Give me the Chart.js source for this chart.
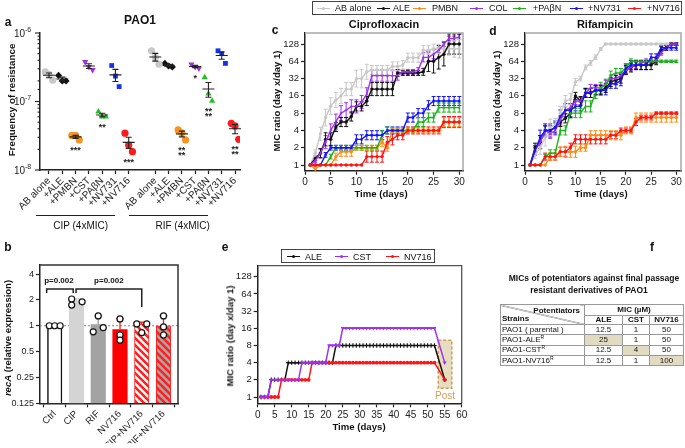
<!DOCTYPE html>
<html><head><meta charset="utf-8">
<script src="https://cdn.jsdelivr.net/npm/chart.js@4.4.1/dist/chart.umd.min.js"></script>
<style>
html,body{margin:0;padding:0;background:#fff;}
#wrap{position:relative;width:685px;height:448px;overflow:hidden;font-family:"Liberation Sans",Arial,sans-serif;color:#111;}
canvas{position:absolute;left:0;top:0;}
.t{position:absolute;white-space:nowrap;line-height:1;z-index:5;}
.b{font-weight:bold;}
.ctr{transform:translate(-50%,-50%);}
.rot{transform:translate(-50%,-50%) rotate(-90deg);}
.ln{position:absolute;border-top:1px solid #222;height:0;z-index:5;}
.lg{position:absolute;border:1px solid #444;box-sizing:border-box;z-index:5;background:#fff;}
.mk{position:absolute;height:0;border-top:1.4px solid;z-index:6;}
.dot{position:absolute;width:3px;height:3px;border-radius:50%;z-index:6;}
#tf{position:absolute;left:500px;top:304px;border-collapse:collapse;table-layout:fixed;font-size:8px;z-index:5;border:1.5px solid #888;}
#tf td{border:1px solid #999;padding:0 1px;line-height:8px;text-align:center;white-space:nowrap;}
#tf td.s{text-align:left;}
#tf td.h{background:#e2dbc3;}
#tf sup{font-size:5px;vertical-align:3px;line-height:0;}
</style></head><body><div id="wrap">
<canvas id="ca" width="685" height="448"></canvas>
<canvas id="cb" width="685" height="448"></canvas>
<canvas id="cc" width="685" height="448"></canvas>
<canvas id="cd" width="685" height="448"></canvas>
<canvas id="ce" width="685" height="448"></canvas>
</div>
<script>
// ---------------- DATA ----------------
// Panel a : frequency of resistance (3 replicates per condition)
const aCats = ['AB alone','+ALE','+PMBN','+CST','+PA\u03b2N','+NV731','+NV716'];
const aGroups = ['CIP (4xMIC)','RIF (4xMIC)'];
const aCIP = [
  [2.7e-7, 2.5e-7, 2.05e-7],
  [2.4e-7, 2.0e-7, 2.0e-7],
  [3.2e-8, 3.2e-8, 2.75e-8],
  [3.8e-7, 3.2e-7, 2.9e-7],
  [7.1e-8, 6.0e-8, 6.0e-8],
  [3.35e-7, 2.35e-7, 1.65e-7],
  [3.45e-8, 2.3e-8, 1.85e-8]
];
const aRIF = [
  [5.5e-7, 4.4e-7, 3.5e-7],
  [3.6e-7, 3.3e-7, 3.2e-7],
  [3.85e-8, 3.5e-8, 2.75e-8],
  [3.5e-7, 3.2e-7, 3.05e-7],
  [2.25e-7, 1.3e-7, 1.02e-7],
  [5.5e-7, 5.0e-7, 3.6e-7],
  [4.8e-8, 4.4e-8, 2.8e-8]
];
const aStarsCIP = ['', '', '***', '', '**', '', '***'];
const aStarsRIF = ['', '', '**\n**', '*', '**\n**', '', '**\n**'];
const aTicksY = [1e-8, 1e-7, 1e-6];
const aTickLabels = [['10','-8'],['10','-7'],['10','-6']];

// Panel b : recA relative expression
const bCats = ['Ctrl','CIP','RIF','NV716','CIP+NV716','RIF+NV716'];
const bMeans = [1, 1.95, 1.03, 0.9, 1.05, 1.0];
const bErrTop = [1, 2.05, 1.3, 1.2, 1.1, 1.3];
const bPts = [[1,1,1],[2.05,1.74,1.9],[1.3,0.85,0.95],[1.2,0.78,0.68],[1.05,0.83,1.05],[1.3,0.97,0.78]];
const bTicksY = [0.125, 0.25, 0.5, 1, 2, 4];
const bPvals = ['p=0.002', 'p=0.002'];

// Panels c, d : MIC ratio over time
const days = [1,2,3,4,5,6,7,8,9,10,11,12,13,14,15,16,17,18,19,20,21,22,23,24,25,26,27,28,29,30];
const seriesNames = ['AB alone','ALE','PMBN','COL','+PA\u03b2N','+NV731','+NV716'];
const cAB   = [1,1.6,3.5,6.7,10.6,13.5,16,21,21,32,32,42,45,45,45,45,52,52,55,74,74,74,100,100,106,106,106,106,106,106];
const cALE  = [1,1.3,1.6,2.8,2.8,4.6,5.6,5.6,7,10.5,10.5,13,21,21,21,21,21,40,40,40,40,40,42,64,64,75,85,128,128,128];
const cPMBN = [1,0.85,1,1,1,1.4,1.7,1.7,1.7,2,2,2,2,2,2.5,2,4,4,4,4,4,4,4,4,4,4,5.6,5.6,5.6,5.6];
const cCOL  = [1,1.2,1.6,2.5,4,5.7,8,9,10.5,10.5,12.5,17,36,36,36,36,36,36,42,42,42,45,75,75,85,100,128,160,160,170];
const cPAbN = [1,1,1,1,1.4,2,2,2,2,2,2,2,2,2,3.3,4,4,4,4,4,4,5.6,5.6,6.7,6.7,10,10,10,10,10];
const cNV731= [1,1,1,1.5,2,2,2,2,2,2.8,2.8,3.3,3.3,3.3,3.3,4,4,4,4,6.7,6.7,8,8,11,13,13,13,13,13,13];
const cNV716= [1,1,1,1,1,1,1,1,1,1,1,1.4,1.4,1.4,1.4,2.5,2.8,3.3,3.3,4,4,4,4,4,4,4,5.6,5.6,5.6,5.6];
// error factors (bar from value/f to value*f)
const cABe   = [1,1.15,1.3,1.4,1.4,1.35,1.35,1.3,1.3,1.4,1.45,1.35,1.2,1.2,1.2,1.2,1.2,1.2,1.2,1.2,1.2,1.2,1.2,1.2,1.2,1.2,1.25,1.3,1.4,1.45];
const cALEe  = [1,1.1,1.2,1.3,1.3,1.2,1.2,1.2,1.2,1.2,1.2,1.2,1.3,1.3,1.3,1.3,1.3,1.15,1.1,1.1,1.1,1.1,1.15,1.5,1.6,1.6,1.6,1.5,1.5,1.5];
const cPMBNe = [1,1.1,1,1,1,1.15,1.2,1.2,1.2,1.1,1.1,1.1,1.1,1.1,1.2,1.15,1.1,1.1,1.1,1.1,1.1,1.1,1.1,1.1,1.1,1.1,1.2,1.2,1.2,1.2];
const cCOLe  = [1,1.1,1.2,1.3,1.3,1.35,1.35,1.35,1.3,1.3,1.3,1.3,1.25,1.25,1.25,1.25,1.25,1.2,1.1,1.1,1.1,1.1,1.2,1.2,1.2,1.1,1.1,1.1,1.1,1.1];
const cPAbNe = [1,1,1,1,1.1,1.1,1.1,1.1,1.1,1.1,1.1,1.1,1.1,1.1,1.2,1.15,1.1,1.1,1.1,1.1,1.1,1.2,1.2,1.2,1.2,1.2,1.2,1.2,1.2,1.2];
const cNV731e= [1,1,1,1.1,1.1,1.1,1.1,1.1,1.1,1.2,1.2,1.2,1.2,1.2,1.2,1.15,1.15,1.15,1.15,1.2,1.2,1.2,1.2,1.2,1.2,1.2,1.2,1.2,1.2,1.2];
const cNV716e= [1,1,1,1,1,1,1,1,1,1,1,1.25,1.25,1.25,1.25,1.25,1.25,1.2,1.2,1.15,1.15,1.15,1.15,1.15,1.15,1.15,1.25,1.25,1.25,1.25];

const dAB   = [1,1.5,2,3,4.5,5,8,13,14,28,32,50,60,75,105,128,128,128,128,128,128,128,128,128,128,128,128,128,128,128];
const dALE  = [1,2,2.5,4,4,4.5,5.6,6.5,8,16,13,18,18,20,20,22,28,30,32,45,50,55,55,55,55,64,100,110,128,128];
const dPMBN = [1,1,1,1,1.4,1.4,1.7,1.7,1.7,1.7,2,2,3.3,3.3,3.3,3.3,3.3,3.3,3.3,4,4,6.7,6.7,6.7,6.7,6.7,6.7,6.7,6.7,6.7];
const dCOL  = [1,1.8,2.5,4,3.5,4,6,9,10,13,13,18,22,22,22,26,32,32,36,45,50,55,60,64,64,64,90,110,128,128];
const dPAbN = [1,1,1,1.4,1.6,1.6,4,4,8,8,8,10.5,10.5,18,22,25,36,40,40,50,64,64,64,64,64,64,64,64,64,64];
const dNV731= [1,1.8,3,4,4,4.5,7,9,9,10.5,10.5,18,18,20,20,20,26,26,30,48,55,55,55,55,75,75,110,110,110,110];
const dNV716= [1,1,1,1.4,1.4,1.4,1.7,1.7,2,2.8,2.8,2.8,2.8,2.8,2.8,2.8,3.3,3.3,4,4,4,5.6,6.7,6.7,6.7,8,8,8,8,8];
const dABe   = [1,1.15,1.3,1.4,1.4,1.3,1.3,1.25,1.25,1.15,1.1,1.1,1.1,1.1,1.05,1.03,1.03,1.03,1.03,1.03,1.03,1.03,1.03,1.03,1.03,1.03,1.03,1.03,1.03,1.03];
const dALEe  = [1,1.2,1.3,1.2,1.2,1.2,1.2,1.2,1.2,1.15,1.2,1.2,1.2,1.2,1.2,1.2,1.2,1.2,1.2,1.2,1.2,1.2,1.2,1.2,1.2,1.15,1.15,1.1,1.05,1.05];
const dPMBNe = [1,1,1,1,1.15,1.15,1.2,1.25,1.25,1.25,1.15,1.15,1.2,1.2,1.2,1.2,1.2,1.2,1.2,1.15,1.15,1.2,1.2,1.2,1.2,1.2,1.2,1.2,1.2,1.2];
const dCOLe  = [1,1.2,1.3,1.2,1.2,1.2,1.2,1.15,1.15,1.15,1.15,1.15,1.15,1.15,1.15,1.15,1.15,1.15,1.15,1.15,1.15,1.15,1.1,1.1,1.1,1.1,1.1,1.1,1.05,1.05];
const dPAbNe = [1,1,1,1.1,1.15,1.15,1.2,1.2,1.2,1.2,1.2,1.25,1.25,1.25,1.25,1.25,1.2,1.2,1.2,1.15,1.1,1.05,1.05,1.05,1.05,1.05,1.05,1.05,1.05,1.05];
const dNV731e= [1,1.2,1.35,1.3,1.3,1.3,1.3,1.3,1.3,1.2,1.2,1.2,1.2,1.2,1.2,1.2,1.2,1.2,1.25,1.2,1.2,1.2,1.2,1.2,1.15,1.15,1.1,1.1,1.1,1.1];
const dNV716e= [1,1,1,1.15,1.15,1.15,1.2,1.2,1.2,1.2,1.2,1.2,1.2,1.2,1.2,1.2,1.15,1.15,1.1,1.1,1.1,1.15,1.1,1.1,1.1,1.05,1.05,1.05,1.05,1.05];
const cdTicksX = [0,5,10,15,20,25,30];
const cdTicksY = [1,2,4,8,16,32,64,128];

// Panel e : serial passage with potentiators
const eNames = ['ALE','CST','NV716'];
const eDays = [1,2,3,4,5,6,7,8,9,10,11,12,13,14,15,16,17,18,19,20,21,22,23,24,25,26,27,28,29,30,31,32,33,34,35,36,37,38,39,40,41,42,43,44,45,46,47,48,49,50,51,52,55];
const eALE  = [1,1,1,2,2,2,2,2,4,4,4,4,4,4,4,4,4,4,4,4,4,4,8,8,8,8,8,8,8,8,8,8,8,8,8,8,8,8,8,8,8,8,8,8,8,8,8,8,8,8,8,8,2];
const eCST  = [1,1,1,2,2,2,2,2,2,2,2,2,4,4,4,4,4,4,4,4,8,8,8,8,16,16,16,16,16,16,16,16,16,16,16,16,16,16,16,16,16,16,16,16,16,16,16,16,16,16,16,16,4];
const eNV716= [1,1,1,1,1,1,2,2,2,2,2,2,2,2,2,4,4,4,4,4,4,4,4,4,4,4,4,4,4,4,4,4,4,4,4,4,4,4,4,4,4,4,4,4,4,4,4,4,4,4,4,4,2];
const eTicksX = [0,5,10,15,20,25,30,35,40,45,50,55,60];
const ePost = {x0:53.1, x1:57.1, y0:1.42, y1:9.9, label:'Post'};

// Panel f : table
const fTitle = ['MICs of potentiators against final passage','resistant derivatives of PAO1'];
const fCols = ['ALE','CST','NV716'];
const fStrains = ['PAO1 ( parental )','PAO1-ALE<sup>R</sup>','PAO1-CST<sup>R</sup>','PAO1-NV716<sup>R</sup>'];
const fVals = [['12.5','1','50'],['25','1','50'],['12.5','4','50'],['12.5','1','100']];
const fHi = [[0,0,0],[1,0,0],[0,1,0],[0,0,1]];

// ---------------- STYLE ----------------
const FONT = '"Liberation Sans", Arial, sans-serif';
Chart.defaults.font.family = FONT;
Chart.defaults.color = '#222';
Chart.defaults.animation = false;
Chart.defaults.responsive = false;
Chart.defaults.devicePixelRatio = 1;
Chart.defaults.events = [];
Chart.defaults.plugins.legend.display = false;
Chart.defaults.plugins.tooltip.enabled = false;

const W = 685, H = 448;
function area(L,T,R,B,yW,xH){ return {padding:{left:L-yW, top:T, right:W-R, bottom:H-B-xH}}; }
function zeroPad(s){ s.paddingLeft=0; s.paddingRight=0; s.paddingTop=0; s.paddingBottom=0; }
function fitW(w){ return s => { s.width = w; zeroPad(s); }; }
function fitH(h){ return s => { s.height = h; zeroPad(s); }; }
const AX = '#222';
const border = {display:true, color:AX, width:1.5};
const tickGrid = {display:true, drawOnChartArea:false, tickLength:4, color:AX, tickColor:AX, tickWidth:1.2};

const colA = ['#c8c8c8','#111111','#f7931e','#a02ee0','#20c020','#1232f0','#ff1a1a'];
const colL = ['#c8c8c8','#111111','#ff8c1a','#a030f0','#18b418','#1414ff','#ff1414'];

const framePlugin = {id:'frame', afterDraw(chart, args, o){
  const a = chart.chartArea, ctx = chart.ctx;
  ctx.save(); ctx.strokeStyle = o.color; ctx.lineWidth = o.width;
  ctx.beginPath(); ctx.moveTo(a.left, a.top); ctx.lineTo(a.right, a.top); ctx.lineTo(a.right, a.bottom);
  ctx.stroke(); ctx.restore();
}};

// ---------------- PANEL A ----------------
const aJit = [-0.28, 0, 0.28];
const aShapes = [{s:'circle'},{s:'rectRot'},{s:'circle'},{s:'triangle',r:180},{s:'triangle'},{s:'rect'},{s:'circle'}];
const aDatasets = aCats.map((c,i)=>({
  data: [...aCIP[i].map((v,j)=>({x:1+i+aJit[j], y:v})), ...aRIF[i].map((v,j)=>({x:9+i+aJit[j], y:v}))],
  pointStyle: aShapes[i].s, rotation: aShapes[i].r||0,
  pointRadius: aShapes[i].s==='rect'?3.4:3.6, backgroundColor: colA[i], borderColor: colA[i], borderWidth: 0
}));
const aTicks = aGroups.flatMap((g,gi)=>aCats.map((c,i)=>({value: gi*8+i+1, label:c})));
const meanPlugin = {id:'meanA',
  afterDraw(chart){
    // log axis ticks: long majors with 10^n labels, short minors
    const {ctx, chartArea:a, scales:{y}} = chart;
    ctx.save(); ctx.strokeStyle = AX; ctx.lineWidth = 1.1; ctx.fillStyle = '#222';
    y.ticks.forEach(t=>{
      const py = y.getPixelForValue(t.value);
      const l = Math.log10(t.value), major = Math.abs(l-Math.round(l)) < 1e-6;
      ctx.beginPath(); ctx.moveTo(a.left, py); ctx.lineTo(a.left-(major?5:2.5), py); ctx.stroke();
    });
    aTicksY.forEach((v,i)=>{
      const py = y.getPixelForValue(v);
      ctx.font = '10px '+FONT; ctx.textBaseline='middle'; ctx.textAlign='right';
      const supW = 8;
      ctx.fillText(aTickLabels[i][0], a.left-7-supW, py+1);
      ctx.font = '7px '+FONT; ctx.textAlign='left';
      ctx.fillText(aTickLabels[i][1], a.left-7-supW, py-3);
    });
    ctx.restore();
  },
  afterDatasetsDraw(chart){
  const {ctx, scales:{x,y}} = chart;
  ctx.save(); ctx.strokeStyle='#222'; ctx.lineWidth=1.1;
  [aCIP, aRIF].forEach((grp, gi)=>grp.forEach((vals,i)=>{
    const n = vals.length, m = vals.reduce((a,b)=>a+b,0)/n;
    const se = Math.sqrt(vals.reduce((a,b)=>a+(b-m)*(b-m),0)/(n-1))/Math.sqrt(n);
    const px = x.getPixelForValue(gi*8+i+1);
    const pm = y.getPixelForValue(m), p1 = y.getPixelForValue(m+se), p0 = y.getPixelForValue(m-se);
    ctx.beginPath(); ctx.moveTo(px-6,pm); ctx.lineTo(px+6,pm);
    ctx.moveTo(px,p0); ctx.lineTo(px,p1);
    ctx.moveTo(px-3,p0); ctx.lineTo(px+3,p0); ctx.moveTo(px-3,p1); ctx.lineTo(px+3,p1); ctx.stroke();
    const st = [aStarsCIP, aStarsRIF][gi][i];
    if (st){
      const low = y.getPixelForValue(Math.min(...vals));
      ctx.fillStyle='#222'; ctx.font='bold 9px '+FONT; ctx.textAlign='center'; ctx.textBaseline='top';
      st.split('\n').forEach((s,k)=>ctx.fillText(s, px, low+6+k*5));
    }
  }));
  ctx.restore();
}};
new Chart(document.getElementById('ca'), {
  type:'scatter', data:{datasets:aDatasets},
  options:{ layout: area(40,33,240,170,40,40),
    scales:{
      x:{type:'linear', min:0.323, max:15.376, border, grid:tickGrid,
        afterBuildTicks: s=>{ s.ticks = aTicks.map(t=>({value:t.value})); }, afterFit: fitH(40),
        ticks:{autoSkip:false, minRotation:45, maxRotation:45, padding:1, font:{size:10}, color:'#222', callback:(v,i)=>aTicks[i].label}},
      y:{type:'logarithmic', min:1e-8, max:1e-6, border, grid:{display:false}, afterFit: fitW(40),
        ticks:{autoSkip:false, display:false}}
    }},
  plugins:[meanPlugin]
});

// ---------------- PANEL B ----------------
function stripes(c1, c2){
  const p = document.createElement('canvas'); p.width = p.height = 7;
  const g = p.getContext('2d'); g.fillStyle = c2; g.fillRect(0,0,7,7);
  g.strokeStyle = c1; g.lineWidth = 2.6; g.beginPath();
  g.moveTo(-2,-2); g.lineTo(9,9); g.moveTo(-2,5); g.lineTo(2,9); g.moveTo(5,-2); g.lineTo(9,2); g.stroke();
  return g.createPattern(p,'repeat');
}
const bFill = ['#ffffff','#d4d4d4','#a3a3a3','#ff0000', stripes('#ff2020','#ffffff'), stripes('#ff2020','#a8a8a8')];
const bBorder = ['#111111','#d4d4d4','#a3a3a3','#ff0000','#ff2020','#ff2020'];
const bBW = [1.5,0,0,0,1,1];
const bErrCol = ['#111','#cfcfcf','#9a9a9a','#ff1a1a','#ff1a1a','#ff1a1a'];
const bJit = [[-0.25,0,0.25],[-0.22,-0.22,0.26],[0,-0.23,0.23],[0,0,0],[-0.23,0,0.23],[0,0,0]];
const bBrackets = [{x0:-0.37, x1:0.85, top:2.68, l0:2.41, l1:2.41},{x0:0.98, x1:4.0, top:2.68, l0:2.41, l1:1.65}];
const bPlugin = {id:'bextra',
  beforeDatasetsDraw(chart){
    const {ctx, chartArea:a, scales:{y}} = chart;
    const py = y.getPixelForValue(1);
    ctx.save(); ctx.strokeStyle='#888'; ctx.lineWidth=1; ctx.setLineDash([2,2]);
    ctx.beginPath(); ctx.moveTo(a.left,py); ctx.lineTo(a.right,py); ctx.stroke(); ctx.restore();
  },
  afterDatasetDraw(chart, args){
    if (args.index !== 1) return;
    const {ctx, scales:{x,y}} = chart;
    ctx.save(); ctx.lineWidth=1.3;
    bMeans.forEach((m,i)=>{
      if (bErrTop[i] <= m) return;
      const px = x.getPixelForValue(i), p0 = y.getPixelForValue(m), p1 = y.getPixelForValue(bErrTop[i]);
      ctx.strokeStyle = bErrCol[i]; ctx.beginPath(); ctx.moveTo(px,p0); ctx.lineTo(px,p1);
      ctx.moveTo(px-4,p1); ctx.lineTo(px+4,p1); ctx.stroke();
    });
    ctx.restore();
  },
  afterDraw(chart){
    const {ctx, scales:{x,y}} = chart;
    ctx.save(); ctx.strokeStyle='#222'; ctx.lineWidth=1.5; ctx.fillStyle='#111';
    ctx.font='bold 8px '+FONT; ctx.textAlign='center'; ctx.textBaseline='middle';
    bBrackets.forEach((b,k)=>{
      const X0 = x.getPixelForValue(b.x0), X1 = x.getPixelForValue(b.x1), T = y.getPixelForValue(b.top);
      ctx.beginPath(); ctx.moveTo(X0, y.getPixelForValue(b.l0)); ctx.lineTo(X0,T); ctx.lineTo(X1,T); ctx.lineTo(X1, y.getPixelForValue(b.l1)); ctx.stroke();
      ctx.fillText(bPvals[k], (X0+X1)/2 + (k===0?-1:0), T-8);
    });
    ctx.restore();
  }
};
new Chart(document.getElementById('cb'), {
  type:'bar',
  data:{datasets:[
    {type:'scatter', order:0, data: bPts.flatMap((arr,i)=>arr.map((v,j)=>({x:i+bJit[i][j], y:v}))),
     pointRadius:3, pointBackgroundColor:'#fff', pointBorderColor:'#111', pointBorderWidth:1.2},
    {type:'bar', order:1, data: bMeans.map((v,i)=>({x:i, y:v})), backgroundColor:bFill, borderColor:bBorder,
     borderWidth:bBW, barThickness:14.5, borderSkipped:'bottom'}
  ]},
  options:{ layout: area(40,265,178,403.3,40,40),
    scales:{
      x:{type:'linear', min:-0.676, max:5.666, border, grid:tickGrid, offset:false,
        afterBuildTicks: s=>{ s.ticks = bCats.map((c,i)=>({value:i})); }, afterFit: fitH(40),
        ticks:{autoSkip:false, minRotation:45, maxRotation:45, padding:1, font:{size:9.5}, color:'#222', callback:(v,i)=>bCats[i]}},
      y:{type:'logarithmic', min:0.125, max:5.1, border, grid:tickGrid, afterFit: fitW(40),
        afterBuildTicks: s=>{ s.ticks = bTicksY.map(v=>({value:v})); },
        ticks:{autoSkip:false, padding:2, font:{size:9}, color:'#222', callback:(v)=>String(v)}}
    },
    plugins:{frame:{color:'#333', width:1.5}}
  },
  plugins:[bPlugin, framePlugin]
});

// ---------------- PANELS C, D ----------------
const errPlugin = {id:'err', beforeDatasetsDraw(chart){
  const {ctx, chartArea:a, scales:{x,y}} = chart;
  ctx.save(); ctx.beginPath(); ctx.rect(a.left-3, a.top-6, a.width+6, a.height+6); ctx.clip();
  ctx.lineWidth = 1;
  chart.data.datasets.forEach(ds=>{
    if (!ds.errF) return;
    ctx.strokeStyle = ds.borderColor;
    ds.data.forEach((p,i)=>{
      const f = ds.errF[i]; if (f <= 1) return;
      const px = x.getPixelForValue(p.x), y0 = y.getPixelForValue(p.y/f), y1 = y.getPixelForValue(p.y*f);
      ctx.beginPath(); ctx.moveTo(px,y0); ctx.lineTo(px,y1);
      ctx.moveTo(px-2,y0); ctx.lineTo(px+2,y0); ctx.moveTo(px-2,y1); ctx.lineTo(px+2,y1); ctx.stroke();
    });
  });
  ctx.restore();
}};
function mkLineSets(vals, errs){
  const shapes = ['circle','circle','circle','triangle','triangle','rect','circle'];
  const sets = vals.map((v,i)=>({
    data: days.map((d,k)=>({x:d, y:v[k]})), errF: errs[i],
    borderColor: colL[i], backgroundColor: colL[i], borderWidth: 1.4,
    pointRadius: 1.7, pointStyle: shapes[i], pointBorderWidth: 0, tension: 0
  }));
  // draw order: grey at the bottom, red on top
  return [sets[6], sets[5], sets[4], sets[3], sets[2], sets[1], sets[0]];
}
function mkCD(id, L, R, xmax, vals, errs){
  new Chart(document.getElementById(id), {
    type:'line', data:{datasets: mkLineSets(vals, errs)},
    options:{ layout: area(L,33,R,170.7,30,20),
      scales:{
        x:{type:'linear', min:0, max:xmax, border, grid:tickGrid, afterFit: fitH(20),
          afterBuildTicks: s=>{ s.ticks = cdTicksX.map(v=>({value:v})); },
          ticks:{autoSkip:false, maxRotation:0, padding:2, font:{size:10}, color:'#222'}},
        y:{type:'logarithmic', min:0.796, max:199, border, grid:tickGrid, afterFit: fitW(30),
          afterBuildTicks: s=>{ s.ticks = cdTicksY.map(v=>({value:v})); },
          ticks:{autoSkip:false, padding:2, font:{size:9.5}, color:'#222', callback:(v)=>String(v)}}
      },
      plugins:{frame:{color:'#a8a8a8', width:1.5}}
    },
    plugins:[errPlugin, framePlugin]
  });
}
mkCD('cc', 305, 463, 30.72, [cAB,cALE,cPMBN,cCOL,cPAbN,cNV731,cNV716], [cABe,cALEe,cPMBNe,cCOLe,cPAbNe,cNV731e,cNV716e]);
mkCD('cd', 525, 683, 30.92, [dAB,dALE,dPMBN,dCOL,dPAbN,dNV731,dNV716], [dABe,dALEe,dPMBNe,dCOLe,dPAbNe,dNV731e,dNV716e]);

// ---------------- PANEL E ----------------
const eCol = ['#111111','#a030f0','#ff1414'];
const eShape = [{s:'cross',r:2.2},{s:'triangle',r:2.3,rot:180},{s:'circle',r:1.9}];
const postPlugin = {id:'post', beforeDatasetsDraw(chart){
  const {ctx, scales:{x,y}} = chart;
  const X0 = x.getPixelForValue(ePost.x0), X1 = x.getPixelForValue(ePost.x1);
  const Y0 = y.getPixelForValue(ePost.y0), Y1 = y.getPixelForValue(ePost.y1);
  ctx.save(); ctx.fillStyle='rgba(222,210,172,0.75)'; ctx.fillRect(X0,Y1,X1-X0,Y0-Y1);
  ctx.strokeStyle='#d39c52'; ctx.lineWidth=1.5; ctx.setLineDash([3,2]); ctx.strokeRect(X0,Y1,X1-X0,Y0-Y1);
  ctx.setLineDash([]); ctx.fillStyle='#d39c52'; ctx.font='10px '+FONT; ctx.textAlign='center'; ctx.textBaseline='middle';
  ctx.fillText(ePost.label, (X0+X1)/2, Y0+7.5);
  ctx.restore();
}};
const eVals = [eALE, eCST, eNV716];
const eSets = eVals.map((v,i)=>({
  data: eDays.map((d,k)=>({x:d, y:v[k]})), borderColor:eCol[i], backgroundColor:eCol[i],
  pointBorderColor:eCol[i], borderWidth:1.5, pointRadius:eShape[i].r, pointStyle:eShape[i].s,
  rotation: eShape[i].rot||0, pointBorderWidth: eShape[i].s==='cross'?1.1:0, tension:0
}));
new Chart(document.getElementById('ce'), {
  type:'line', data:{datasets:[eSets[1], eSets[2], eSets[0]]},
  options:{ layout: area(257.7,265.7,461.7,403.3,30,20),
    scales:{
      x:{type:'linear', min:0, max:60, border, grid:tickGrid, afterFit: fitH(20),
        afterBuildTicks: s=>{ s.ticks = eTicksX.map(v=>({value:v})); },
        ticks:{autoSkip:false, maxRotation:0, padding:2, font:{size:10}, color:'#222'}},
      y:{type:'logarithmic', min:0.776, max:199.4, border, grid:tickGrid, afterFit: fitW(30),
        afterBuildTicks: s=>{ s.ticks = cdTicksY.map(v=>({value:v})); },
        ticks:{autoSkip:false, padding:2, font:{size:9.5}, color:'#222', callback:(v)=>String(v)}}
    },
    plugins:{frame:{color:'#555', width:1.3}}
  },
  plugins:[postPlugin, framePlugin]
});

// ---------------- HTML TEXT / LEGENDS / TABLE ----------------
const wrap = document.getElementById('wrap');
function txt(s, x, y, cls, size, extra){
  const d = document.createElement('div'); d.className = 't ' + cls; d.innerHTML = s;
  d.style.left = x+'px'; d.style.top = y+'px'; d.style.fontSize = size+'px';
  if (extra) Object.assign(d.style, extra);
  wrap.appendChild(d); return d;
}
// panel letters
txt('a', 8, 22, 'b ctr', 12); txt('b', 8, 247, 'b ctr', 12); txt('c', 275, 30, 'b ctr', 12);
txt('d', 493, 31, 'b ctr', 12); txt('e', 225, 247, 'b ctr', 12); txt('f', 652, 247, 'b ctr', 12);
// titles
txt('PAO1', 140, 20, 'b ctr', 12);
txt('Ciprofloxacin', 384, 23.5, 'b ctr', 11);
txt('Rifampicin', 605, 24, 'b ctr', 11);
// axis titles
txt('Frequency of resistance', 12, 100, 'b rot', 9.8);
txt('<i>recA</i> (relative expression)', 8, 338, 'b rot', 9.5);
txt('MIC ratio (day x/day 1)', 276.5, 101, 'b rot', 9.5);
txt('MIC ratio (day x/day 1)', 496.5, 101, 'b rot', 9.5);
txt('MIC ratio (day x/day 1)', 230, 336, 'b rot', 9.5);
txt('Time (days)', 381, 194, 'b ctr', 9.6);
txt('Time (days)', 601, 194, 'b ctr', 9.6);
txt('Time (days)', 359, 426.5, 'b ctr', 9.6);
// group labels panel a
[[36,79,80.7],[129,79,182.7]].forEach((g,i)=>{
  const l = document.createElement('div'); l.className='ln'; l.style.left=g[0]+'px'; l.style.top='215px'; l.style.width=g[1]+'px'; wrap.appendChild(l);
  txt(aGroups[i], g[2], 225.5, 'ctr', 10);
});
// top legend (c, d)
const lgTop = document.createElement('div'); lgTop.className='lg';
Object.assign(lgTop.style,{left:'312px',top:'1px',width:'370px',height:'14px'}); wrap.appendChild(lgTop);
const lgX = [[317,335],[377,393],[413,432],[470,489],[513,533],[570,588],[628,647]];
seriesNames.forEach((n,i)=>{
  const m = document.createElement('div'); m.className='mk';
  Object.assign(m.style,{left:lgX[i][0]+'px', top:'7.5px', width:'13px', borderTopColor:colL[i]}); wrap.appendChild(m);
  const dt = document.createElement('div'); dt.className='dot';
  Object.assign(dt.style,{left:(lgX[i][0]+5)+'px', top:'6.5px', background:colL[i]}); wrap.appendChild(dt);
  txt(n, lgX[i][1], 8, '', 9, {transform:'translateY(-50%)'});
});
// legend e
const lgE = document.createElement('div'); lgE.className='lg';
Object.assign(lgE.style,{left:'281px',top:'249px',width:'154px',height:'14px'}); wrap.appendChild(lgE);
const lgEX = [[287,305],[335,353],[386,404]];
eNames.forEach((n,i)=>{
  const m = document.createElement('div'); m.className='mk';
  Object.assign(m.style,{left:lgEX[i][0]+'px', top:'255.5px', width:'13px', borderTopColor:eCol[i]}); wrap.appendChild(m);
  const dt = document.createElement('div'); dt.className='dot';
  Object.assign(dt.style,{left:(lgEX[i][0]+5)+'px', top:'254.5px', background:eCol[i]}); wrap.appendChild(dt);
  txt(n, lgEX[i][1], 256.5, '', 9, {transform:'translateY(-50%)'});
});
// panel f
txt(fTitle[0], 594, 278, 'b ctr', 8.5);
txt(fTitle[1], 589, 290, 'b ctr', 8.5);
const tb = document.createElement('table'); tb.id='tf';
let h = '<colgroup><col style="width:84px"><col style="width:38px"><col style="width:27px"><col style="width:34px"></colgroup>';
h += '<tr style="height:11px"><td rowspan="2" style="position:relative;background:linear-gradient(to top right, transparent calc(50% - 0.7px), #555 50%, transparent calc(50% + 0.7px));">'
  + '<span class="b" style="position:absolute;right:4px;top:2px;">Potentiators</span><span class="b" style="position:absolute;left:1px;bottom:1px;">Strains</span></td>'
  + '<td colspan="3" class="b">MIC (\u00b5M)</td></tr>';
h += '<tr style="height:9px">' + fCols.map(c=>'<td class="b">'+c+'</td>').join('') + '</tr>';
fStrains.forEach((s,r)=>{
  h += '<tr style="height:10.3px"><td class="s">'+s+'</td>' + fVals[r].map((v,c)=>'<td'+(fHi[r][c]?' class="h"':'')+'>'+v+'</td>').join('') + '</tr>';
});
tb.innerHTML = h; wrap.appendChild(tb);
</script>
</body></html>
